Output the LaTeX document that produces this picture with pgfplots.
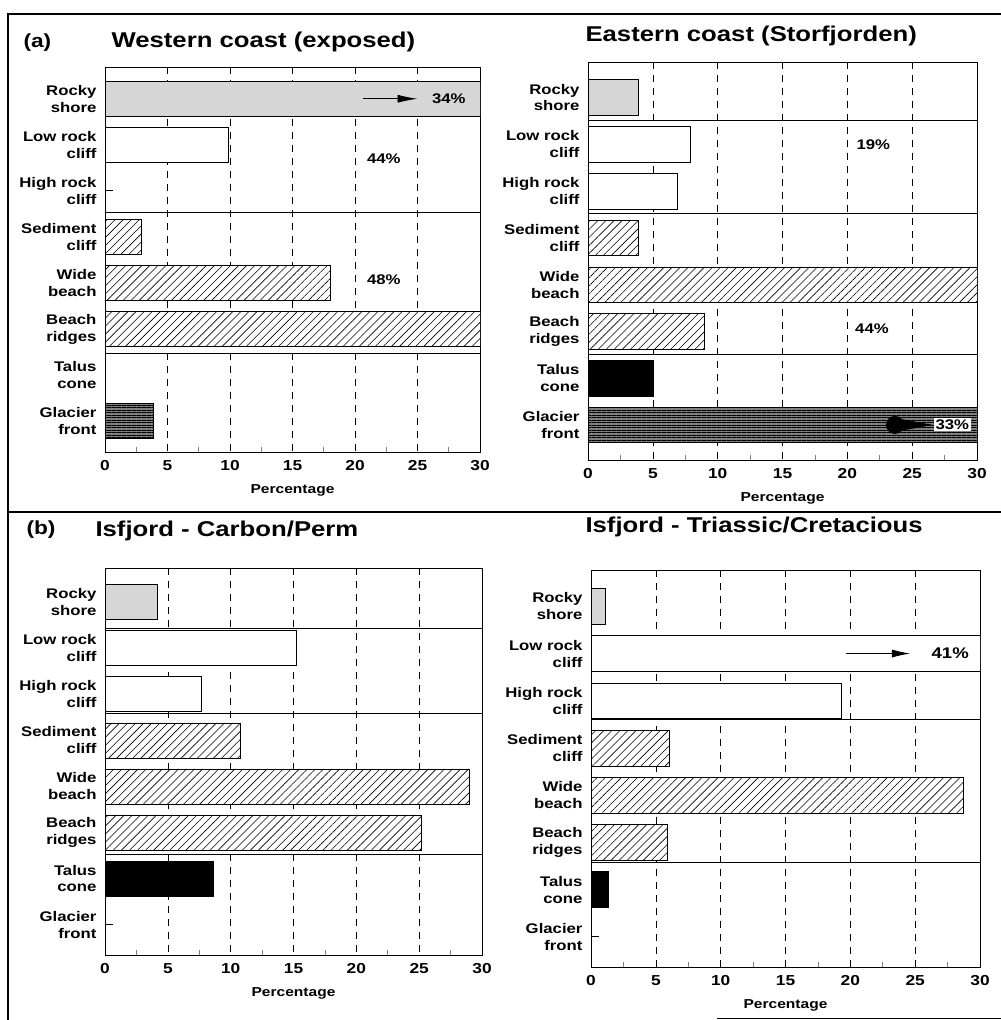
\documentclass[border=0pt]{standalone}
\usepackage{fontspec}
\setmainfont{Liberation Sans}[FakeStretch=1.2]
\usepackage{pgfplots}
\pgfplotsset{compat=1.18}
\usetikzlibrary{patterns.meta,arrows.meta}
\tikzset{pct/.style={font=\fontsize{14}{16}\selectfont\bfseries}}
\begin{document}
\begin{tikzpicture}[x=1bp,y=1bp]
\pgfplotsset{
  panel/.style={
    xbar, scale only axis, anchor=south west,
    xmin=0, xmax=30, y dir=reverse,
    axis line style={line width=0.8bp},
    ytick={0,...,7},
    yticklabels={{Rocky\\shore},{Low rock\\cliff},{High rock\\cliff},{Sediment\\cliff},{Wide\\beach},{Beach\\ridges},{Talus\\cone},{Glacier\\front}},
    yticklabel style={align=right, font=\fontsize{14}{17}\selectfont\bfseries, xshift=-5bp},
    ytick style={draw=none},
    xtick={0,5,...,30},
    minor xtick={2.5,7.5,...,27.5},
    xtick pos=left,
    tick align=inside, major tick length=0pt, minor tick length=5bp,
    minor tick style={line width=0.6bp},
    xmajorgrids, grid style={black, line width=0.6bp, dash pattern=on 7bp off 6bp},
    xticklabel style={font=\fontsize{14.5}{16}\selectfont\bfseries, yshift=-5bp},
    /pgf/number format/assume math mode=true,
    xlabel={Percentage}, xlabel style={font=\fontsize{13}{15}\selectfont\bfseries, yshift=-7bp},
    bar width=0.76,
  },
  stip/.style={draw=black, line width=0.6bp, fill=black!16, bar shift=0pt},
  wbar/.style={draw=black, line width=0.6bp, fill=white, bar shift=0pt},
  hbar/.style={draw=black, line width=0.6bp, fill=white, bar shift=0pt,
     postaction={pattern={Lines[angle=45,distance=5.7bp,line width=0.6bp]}}},
  sbar/.style={draw=black, line width=0.6bp, fill=black, bar shift=0pt},
  gbar/.style={draw=black, line width=0.6bp, fill=black!50, bar shift=0pt,
     postaction={pattern={Lines[angle=0,distance=2.5bp,line width=0.35bp]}}},
  zline/.style={sharp plot, black, line width=0.8bp, mark=none},
}
\path[use as bounding box] (0,0) rectangle (1001,1020);
% frame
\draw[line width=2bp] (8,0) -- (8,1006) -- (1001,1006);
\draw[line width=2bp] (8,508) -- (1001,508);
\draw[line width=1.5bp] (717,1.5) -- (1001,1.5);
% titles
\node[anchor=base west, font=\fontsize{19}{22}\selectfont\bfseries] at (20,972) {(a)};
\node[anchor=base west, font=\fontsize{21.5}{25}\selectfont\bfseries] at (108,972) {Western coast (exposed)};
\node[anchor=base west, font=\fontsize{21.5}{25}\selectfont\bfseries] at (582,978) {Eastern coast (Storfjorden)};
\node[anchor=base west, font=\fontsize{19}{22}\selectfont\bfseries] at (23,485) {(b)};
\node[anchor=base west, font=\fontsize{21.5}{25}\selectfont\bfseries] at (92,483) {Isfjord - Carbon/Perm};
\node[anchor=base west, font=\fontsize{21.5}{25}\selectfont\bfseries] at (582,487) {Isfjord - Triassic/Cretacious};

% Panel 1: Western coast
\begin{axis}[panel, at={(105bp,568bp)}, width=375bp, height=385bp, ymin=-0.69, ymax=7.67]
\addplot[stip] coordinates {(34,0)};
\addplot[wbar] coordinates {(9.9,1)};
\addplot[zline] coordinates {(0,2) (0.6,2)};
\addplot[hbar] coordinates {(2.9,3) (18,4) (30,5)};
\addplot[gbar] coordinates {(3.9,7)};
\pgfplotsinvokeforeach{0.38,2.46,5.52}{\draw[line width=0.6bp] (axis cs:0,#1) -- (axis cs:30,#1);}
\draw[line width=0.8bp, -{Latex[length=20bp,width=8bp]}] (axis cs:20.6,0) -- (axis cs:25,0);
\node[pct] at (axis cs:27.5,0) {34\%};
\node[pct] at (axis cs:22.3,1.3) {44\%};
\node[pct] at (axis cs:22.3,3.93) {48\%};
\end{axis}

% Panel 2: Eastern coast
\begin{axis}[panel, at={(588bp,560bp)}, width=389bp, height=398bp, ymin=-0.76, ymax=7.75]
\addplot[stip] coordinates {(3.9,0)};
\addplot[wbar] coordinates {(7.9,1) (6.9,2)};
\addplot[hbar] coordinates {(3.9,3) (31,4) (9,5)};
\addplot[sbar] coordinates {(5,6)};
\addplot[gbar] coordinates {(33,7)};
\pgfplotsinvokeforeach{0.48,2.47,5.48}{\draw[line width=0.6bp] (axis cs:0,#1) -- (axis cs:30,#1);}
\node[pct] at (axis cs:22,1.0) {19\%};
\node[pct] at (axis cs:21.9,4.95) {44\%};
\fill (axis cs:23.67,7) circle[radius=9bp];
\fill (axis cs:23.67,7) ++(0bp,7bp) -- ++(38bp,-7bp) -- ++(-38bp,-7bp) -- cycle;
\node[pct, fill=white, inner sep=1.5bp] at (axis cs:28.1,7) {33\%};
\end{axis}

% Panel 3: Isfjord - Carbon/Perm
\begin{axis}[panel, at={(105bp,65bp)}, width=377bp, height=387bp, ymin=-0.74, ymax=7.66]
\addplot[stip] coordinates {(4.2,0)};
\addplot[wbar] coordinates {(15.2,1) (7.65,2)};
\addplot[hbar] coordinates {(10.8,3) (29,4) (25.2,5)};
\addplot[sbar] coordinates {(8.6,6)};
\addplot[zline] coordinates {(0,7) (0.6,7)};
\pgfplotsinvokeforeach{0.56,2.41,5.47}{\draw[line width=0.6bp] (axis cs:0,#1) -- (axis cs:30,#1);}
\end{axis}

% Panel 4: Isfjord - Triassic/Cretacious
\begin{axis}[panel, at={(591bp,53bp)}, width=389bp, height=397bp, ymin=-0.77, ymax=7.64]
\addplot[stip] coordinates {(1.1,0)};
\addplot[wbar] coordinates {(41,1) (19.3,2)};
\addplot[hbar] coordinates {(6,3) (28.7,4) (5.9,5)};
\addplot[sbar] coordinates {(1.3,6)};
\addplot[zline] coordinates {(0,7) (0.6,7)};
\pgfplotsinvokeforeach{0.62,2.4,5.43}{\draw[line width=0.6bp] (axis cs:0,#1) -- (axis cs:30,#1);}
\draw[line width=0.8bp, -{Latex[length=18bp,width=8bp]}] (axis cs:19.7,1) -- (axis cs:24.6,1);
\node[font=\fontsize{15.5}{17}\selectfont\bfseries] at (axis cs:27.7,1) {41\%};
\end{axis}
\end{tikzpicture}
\end{document}
